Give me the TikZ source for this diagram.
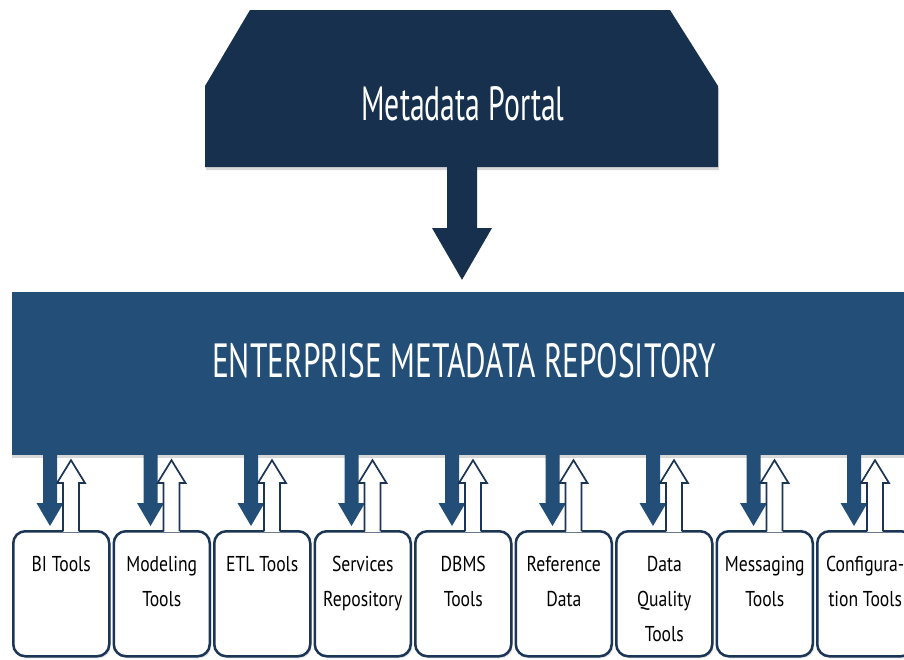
\documentclass[tikz,border=0pt]{standalone}
\usepackage{fontspec}
\setmainfont{PT Sans}
\newfontfamily\titlefont{PT Sans}[FakeStretch=0.62]
\newfontfamily\repofont{PT Sans}[FakeStretch=0.655]
\newfontfamily\toolfont{PT Sans}[FakeStretch=0.82]
\usetikzlibrary{calc,shadows,positioning}

\definecolor{portalnavy}{HTML}{17304E}
\definecolor{repoblue}{HTML}{234E78}
\definecolor{edgenavy}{HTML}{1B3556}

\tikzset{
    toolbox/.style={draw=edgenavy, line width=2.5pt, fill=white, rounded corners=12pt,
        minimum width=96pt, minimum height=125pt, inner sep=0pt,
        drop shadow={opacity=0.22, shadow xshift=1.5pt, shadow yshift=-2pt}},
    toollabel/.style={font=\toolfont\fontsize{21.5}{35}\selectfont, align=center, inner sep=0pt, text=black},
    titletext/.style={font=\titlefont\fontsize{48}{50}\selectfont, text=white, inner sep=0pt},
    outarrow/.style={fill=repoblue},
    inarrow/.style={draw=edgenavy, line width=1.7pt, fill=white, line join=miter}
}

\begin{document}
\begin{tikzpicture}[x=1pt, y=-1pt]
    \useasboundingbox (0,0) rectangle (904,659);
    \clip (0,0) rectangle (904,659);
    \fill[white] (0,0) rectangle (904,659);

    % portal on top
    \fill[portalnavy, drop shadow={opacity=0.3, shadow xshift=1pt, shadow yshift=-3pt}]
        (250,10) -- (670,10) -- (718,86) -- (718,167) -- (205,167) -- (205,86) -- cycle;
    \node[titletext] (portal) at (463,104) {Metadata Portal};
    \coordinate (pbase) at (462,167);

    % repository band
    \node[fill=repoblue, minimum width=904pt, minimum height=163pt, inner sep=0pt,
        drop shadow={opacity=0.3, shadow xshift=0pt, shadow yshift=-3pt}] (repo) at (464,373.5) {};
    \node[titletext, font=\repofont\fontsize{48}{50}\selectfont] (repotext) at (464,361) {ENTERPRISE METADATA REPOSITORY};

    % portal -> repository
    \fill[portalnavy] ($(pbase)+(-15,0)$) -- ($(pbase)+(15,0)$) -- ++(0,61) -- ++(15,0)
        -- ($(pbase |- repo.north)+(0,-12)$) -- ($(pbase)+(-30,61)$) -- ++(15,0) -- cycle;

    % tool boxes with arrows
    \foreach \txt [count=\i from 0] in {BI Tools, Modeling\\Tools, ETL Tools, Services\\Repository,
            DBMS\\Tools, Reference\\Data, Data\\Quality\\Tools, Messaging\\Tools, Configura-\\tion Tools} {
        \node[toolbox, anchor=north west] (b\i) at (12+100.5*\i,530) {};
        \node[toollabel, anchor=north] (t\i) at ($(b\i.north)+(0,26)$) {\txt};
        \coordinate (d\i) at ($(b\i.north west)+(38,0)$);
        \coordinate (u\i) at ($(b\i.north west)+(59,0)$);
        % repository -> tool
        \fill[outarrow] ($(d\i |- repo.south)+(-7,-1)$) -- ($(d\i)+(-7,-27)$) -- ($(d\i)+(-13.5,-27)$)
            -- ($(d\i)+(0,-4)$) -- ($(d\i)+(13.5,-27)$) -- ($(d\i)+(7,-27)$)
            -- ($(d\i |- repo.south)+(7,-1)$) -- cycle;
        % tool -> repository
        \fill[white] ($(u\i)+(-8,2)$) -- ($(u\i)+(-8,-47)$) -- ($(u\i)+(8,-47)$) -- ($(u\i)+(8,2)$) -- cycle;
        \draw[inarrow] ($(u\i)+(-8,1.3)$) -- ($(u\i)+(-8,-47)$) -- ($(u\i)+(-14,-47)$)
            -- ($(u\i |- repo.south)+(0,5)$) -- ($(u\i)+(14,-47)$) -- ($(u\i)+(8,-47)$)
            -- ($(u\i)+(8,1.3)$);
    }
\end{tikzpicture}
\end{document}
